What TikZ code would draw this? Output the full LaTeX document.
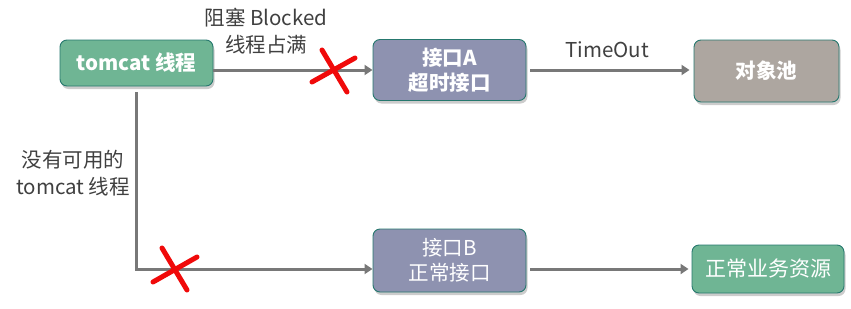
\documentclass[tikz,border=0pt]{standalone}
\usepackage{fontspec}
\setmainfont{Noto Sans CJK SC}
\usetikzlibrary{arrows.meta,shadows}
\definecolor{boxGreen}{RGB}{111,181,148}
\definecolor{boxPurple}{RGB}{142,146,176}
\definecolor{boxGray}{RGB}{173,166,160}
\definecolor{edgeTeal}{RGB}{38,120,110}
\definecolor{lineGray}{RGB}{120,120,120}
\definecolor{labelGray}{RGB}{64,64,64}
\definecolor{crossRed}{RGB}{240,10,10}
\newcommand{\BoxFont}{\fontsize{20.5}{25}\selectfont}

\begin{document}
\begin{tikzpicture}[x=1pt,y=-1pt,
  box/.style={rounded corners=7pt,draw=edgeTeal,line width=0.9pt,text=white,align=center,inner sep=0pt,font=\BoxFont,drop shadow={opacity=0.4,shadow xshift=1.5pt,shadow yshift=-3pt}},
  boldbox/.style={box,font=\BoxFont\bfseries},
  flow/.style={draw=lineGray,line width=3pt,-{Triangle[length=8pt,width=10pt]}},
  note/.style={text=labelGray,align=center,font=\fontsize{20.5}{27}\selectfont},
  cross/.style={draw=crossRed,line width=5pt,line cap=round}]
\useasboundingbox (0,0) rectangle (851,308);
% boxes
\node[boldbox,fill=boxGreen,minimum width=153pt,minimum height=46pt] (tomcat) at (136.5,63) {tomcat 线程};
\node[boldbox,fill=boxPurple,minimum width=153pt,minimum height=61pt] (A) at (449.5,70) {接口A\\超时接口};
\node[boldbox,fill=boxGray,minimum width=145pt,minimum height=62pt] (pool) at (766.5,71) {对象池};
\node[box,fill=boxPurple,minimum width=153pt,minimum height=63pt] (B) at (449.5,260.5) {接口B\\正常接口};
\node[box,fill=boxGreen,minimum width=152pt,minimum height=48pt,font=\fontsize{21}{24}\selectfont] (res) at (768,269) {正常业务资源};
% labels
\node[note] (blockedlbl) at (266,31) {阻塞 Blocked\\线程占满};
\node[note] (timeoutlbl) at (607,50) {TimeOut};
\node[note] (nothreadlbl) at (73,173) {没有可用的\\tomcat 线程};
% connectors
\draw[flow] (tomcat.east |- A.west) -- (A.west);
\draw[flow] ([xshift=4pt]A.east) -- ([xshift=-4pt]pool.west |- A.east);
\draw[flow] ([yshift=-6pt]tomcat.south) |- (B.west |- res.west);
\draw[flow] ([xshift=4pt]B.east |- res.west) -- ([xshift=-3pt]res.west);
% red crosses
\coordinate (cut1) at (333,70);
\coordinate (cut2) at (173,268);
\draw[cross] ([shift={(-21,12)}]cut1) -- ([shift={(22,-12)}]cut1);
\draw[cross] ([shift={(-11,-20)}]cut1) -- ([shift={(14,22)}]cut1);
\draw[cross] ([shift={(-20,14)}]cut2) -- ([shift={(24,-11)}]cut2);
\draw[cross] ([shift={(-11,-20)}]cut2) -- ([shift={(14,22)}]cut2);
\end{tikzpicture}
\end{document}
